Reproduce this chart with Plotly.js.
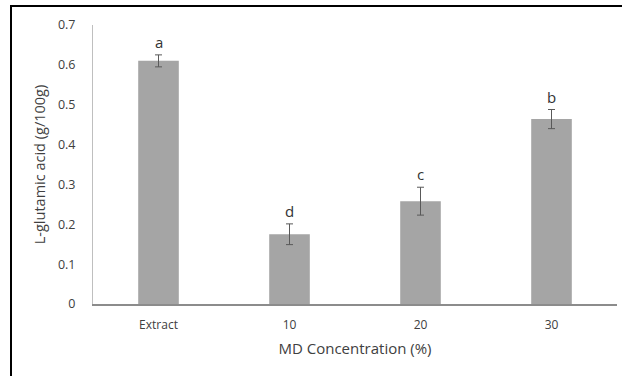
<!DOCTYPE html>
<html>
<head>
<meta charset="utf-8">
<script src="https://cdn.plot.ly/plotly-3.0.1.min.js"></script>
<style>
  html, body { margin: 0; padding: 0; overflow: hidden; background: #fff; }
  #chart { width: 622px; height: 376px; position: relative; }
  #frame { position: absolute; left: 10px; top: 5px; width: 700px; height: 500px;
           border-left: 2px solid #000; border-top: 2px solid #000; pointer-events: none; }
</style>
</head>
<body>
<div id="chart"></div>
<div id="frame"></div>
<script>
const categories = ["Extract", "10", "20", "30"];
const values = [0.61, 0.175, 0.258, 0.464];
const errors = [0.015, 0.026, 0.035, 0.024];
const letters = ["a", "d", "c", "b"];
const yTicks = [0, 0.1, 0.2, 0.3, 0.4, 0.5, 0.6, 0.7];
const yTickLabels = ["0", "0.1", "0.2", "0.3", "0.4", "0.5", "0.6", "0.7"];

const font = "Open Sans, Noto Sans, sans-serif";

const trace = {
  type: "bar",
  x: categories,
  y: values,
  width: 0.31,
  marker: { color: "#a5a5a5", line: { width: 0 } },
  error_y: { type: "data", array: errors, visible: true, color: "#595959", thickness: 1, width: 3.5 },
  hoverinfo: "none"
};

const annotations = categories.map((c, i) => ({
  x: i, y: values[i] + errors[i], xref: "x", yref: "y",
  text: letters[i], showarrow: false, yanchor: "bottom", yshift: 1,
  font: { family: font, size: 15, color: "#333" }
}));

const layout = {
  width: 622, height: 376,
  margin: { l: 93, r: 5, t: 25, b: 72, pad: 0 },
  paper_bgcolor: "#fff", plot_bgcolor: "#fff",
  showlegend: false,
  font: { family: font, color: "#404040" },
  xaxis: {
    type: "category",
    categoryarray: categories, categoryorder: "array",
    range: [-0.5, categories.length - 0.5],
    showline: true, linecolor: "#8c8c8c", linewidth: 1.5,
    ticks: "", showgrid: false, zeroline: false,
    tickangle: 0,
    tickfont: { family: font, size: 12, color: "#404040" },
    ticklabelstandoff: 9,
    title: { text: "MD Concentration (%)", font: { family: font, size: 15, color: "#404040" }, standoff: 11 }
  },
  yaxis: {
    range: [0, 0.7],
    tickvals: yTicks, ticktext: yTickLabels,
    showline: true, linecolor: "#bfbfbf", linewidth: 1,
    ticks: "", showgrid: false, zeroline: false,
    tickfont: { family: font, size: 12.5, color: "#404040" },
    ticklabelstandoff: 14,
    title: { text: "L-glutamic acid (g/100g)", font: { family: font, size: 14.5, color: "#404040" }, standoff: 8 }
  },
  annotations: annotations
};

Plotly.newPlot("chart", [trace], layout, { staticPlot: true, displayModeBar: false });
</script>
</body>
</html>
